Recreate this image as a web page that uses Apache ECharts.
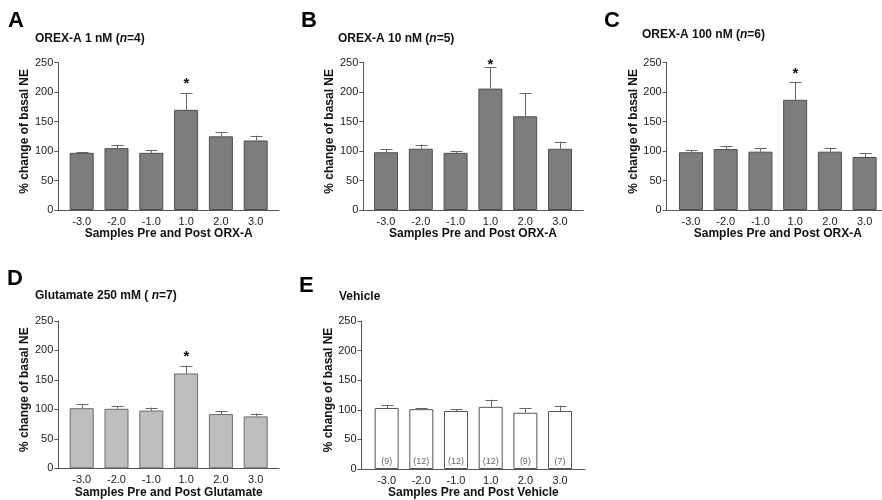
<!DOCTYPE html>
<html>
<head>
<meta charset="utf-8">
<script src="https://cdn.jsdelivr.net/npm/echarts@6/dist/echarts.min.js"></script>
<style>
html,body{margin:0;padding:0;background:#fff;}
#chart{width:882px;height:500px;}
</style>
</head>
<body>
<div id="chart"></div>
<script>
// ---- data ----
const categories = ['-3.0', '-2.0', '-1.0', '1.0', '2.0', '3.0'];
const yTicks = [0, 50, 100, 150, 200, 250];

const orexA1Mean   = [97, 105, 97, 170, 125, 118];
const orexA1Sem    = [1.5, 5, 5, 29, 7, 8];
const orexA10Mean  = [98, 104, 97, 206, 159, 104];
const orexA10Sem   = [5, 7, 3, 36, 39, 12];
const orexA100Mean = [98, 103.5, 99, 187, 99, 90];
const orexA100Sem  = [3, 4.5, 5.5, 30, 7, 6];
const glutMean     = [102, 101, 98, 161, 92, 88];
const glutSem      = [7, 4, 5, 13, 5, 5];
const vehMean      = [103, 101, 98, 105, 95, 98];
const vehSem       = [5.5, 1.5, 3, 12, 8, 9];
const vehN         = ['(9)', '(12)', '(12)', '(12)', '(9)', '(7)'];

const sigA = ['1.0'];
const sigB = ['1.0'];
const sigC = ['1.0'];
const sigD = ['1.0'];
const sigE = [];

const panelLetters = ['A', 'B', 'C', 'D', 'E'];
const panelTitles = [
  ['OREX-A 1 nM (', 'n', '=4)'],
  ['OREX-A 10 nM (', 'n', '=5)'],
  ['OREX-A 100 nM (', 'n', '=6)'],
  ['Glutamate 250 mM ( ', 'n', '=7)'],
  ['Vehicle', '', '']
];
const xNames = ['Samples Pre and Post ORX-A', 'Samples Pre and Post ORX-A', 'Samples Pre and Post ORX-A',
                'Samples Pre and Post Glutamate', 'Samples Pre and Post Vehicle'];
const yName = '% change of basal NE';

// ---- layout / style (not data) ----
const FONT = '"Liberation Sans", Arial, sans-serif';
const panels = [
  {mean: orexA1Mean,   sem: orexA1Sem,   sig: sigA, axL: 58.3,  axR: 279,   bL: 64.3,  bR: 273.1, top: 62.7, bot: 210,
   fill: '#7d7d7d', border: '#4f4f4f', letter: [8, 10], title: [35, 32.5]},
  {mean: orexA10Mean,  sem: orexA10Sem,  sig: sigB, axL: 363.3, axR: 583.3, bL: 368.6, bR: 577.4, top: 62.7, bot: 210,
   fill: '#7d7d7d', border: '#4f4f4f', letter: [301, 9.5], title: [338, 32.5]},
  {mean: orexA100Mean, sem: orexA100Sem, sig: sigC, axL: 666.7, axR: 882,   bL: 673.6, bR: 882,   top: 62.7, bot: 210,
   fill: '#7d7d7d', border: '#4f4f4f', letter: [604, 9.5], title: [642, 28.5]},
  {mean: glutMean,     sem: glutSem,     sig: sigD, axL: 58.3,  axR: 279,   bL: 64.3,  bR: 273.1, top: 321, bot: 468.3,
   fill: '#bebebe', border: '#6a6a6a', letter: [7, 268], title: [35, 290]},
  {mean: vehMean,      sem: vehSem,      sig: sigE, axL: 361.5, axR: 585,   bL: 369.3, bR: 577.4, top: 321, bot: 469,
   fill: '#ffffff', border: '#555555', letter: [299, 275], title: [339, 291], nLabels: vehN}
];

const grids = [], xAxes = [], yAxes = [], series = [], titles = [];

panels.forEach((p, i) => {
  const gAxis = grids.length;
  grids.push({left: p.axL, top: p.top, width: p.axR - p.axL, height: p.bot - p.top, outerBoundsMode: 'none', containLabel: false});
  const gData = grids.length;
  grids.push({left: p.bL, top: p.top, width: p.bR - p.bL, height: p.bot - p.top, outerBoundsMode: 'none', containLabel: false});

  // axis-line grid
  xAxes.push({gridIndex: gAxis, type: 'value', min: 0, max: 1, position: 'bottom',
    axisLine: {show: true, onZero: false, lineStyle: {color: '#555', width: 1}},
    axisTick: {show: false}, axisLabel: {show: false}, splitLine: {show: false}});
  yAxes.push({gridIndex: gAxis, type: 'value', min: yTicks[0], max: yTicks[yTicks.length - 1],
    interval: yTicks[1] - yTicks[0],
    axisLine: {show: true, lineStyle: {color: '#555', width: 1}},
    axisTick: {show: true, inside: false, length: 4, lineStyle: {color: '#555'}},
    axisLabel: {show: true, margin: 5, fontSize: 11, color: '#222', fontFamily: FONT},
    splitLine: {show: false},
    name: yName, nameLocation: 'middle', nameRotate: 90, nameGap: 27,
    nameTextStyle: {fontSize: 12, fontWeight: 'bold', color: '#111', fontFamily: FONT, padding: [0, 0, 0, 10]}});

  // data grid
  const xi = xAxes.length;
  xAxes.push({gridIndex: gData, type: 'category', data: categories, boundaryGap: true,
    axisLine: {show: false}, axisTick: {show: false},
    axisLabel: {show: true, margin: 6, fontSize: 11, color: '#222', fontFamily: FONT, interval: 0},
    splitLine: {show: false},
    name: xNames[i], nameLocation: 'middle', nameGap: 18,
    nameTextStyle: {fontSize: 12, fontWeight: 'bold', color: '#111', fontFamily: FONT}});
  const yi = yAxes.length;
  yAxes.push({gridIndex: gData, type: 'value', min: yTicks[0], max: yTicks[yTicks.length - 1], show: false});

  series.push({
    type: 'bar', xAxisIndex: xi, yAxisIndex: yi, barWidth: 24, silent: true,
    data: p.mean.map((v, k) => ({value: v,
      label: p.nLabels ? {show: true, formatter: p.nLabels[k]} : {show: false}})),
    itemStyle: {color: p.fill, borderColor: p.border, borderWidth: 1},
    label: {position: 'insideBottom', distance: 3, fontSize: 9, color: '#666', fontFamily: FONT},
    animation: false
  });

  const topPx = p.top;
  series.push({
    type: 'custom', xAxisIndex: xi, yAxisIndex: yi, silent: true, animation: false, z: 5,
    data: p.mean.map((v, k) => [k, v, p.sem[k], p.sig.indexOf(categories[k]) >= 0 ? 1 : 0]),
    renderItem: function (params, api) {
      const k = api.value(0), v = api.value(1), e = api.value(2), s = api.value(3);
      const base = api.coord([k, v]);
      const cap = api.coord([k, v + e]);
      const x = Math.round(base[0]) + 0.5;
      const children = [
        {type: 'line', shape: {x1: x, y1: base[1], x2: x, y2: cap[1]}, style: {stroke: '#666', lineWidth: 1}},
        {type: 'line', shape: {x1: x - 6, y1: Math.round(cap[1]) + 0.5, x2: x + 6, y2: Math.round(cap[1]) + 0.5},
          style: {stroke: '#666', lineWidth: 1}}
      ];
      if (s) {
        const ty = Math.max(cap[1] - 12, topPx - 1);
        children.push({type: 'text', x: x, y: ty + 3.5,
          style: {text: '*', fontSize: 15, fontWeight: 'bold', fill: '#111', fontFamily: FONT,
                  align: 'center', verticalAlign: 'middle'}});
      }
      return {type: 'group', children: children};
    }
  });

  titles.push({text: panelLetters[i], left: p.letter[0], top: p.letter[1], padding: 0,
    textStyle: {fontSize: 22, fontWeight: 'bold', color: '#000', fontFamily: FONT}});
  const t = panelTitles[i];
  const txt = t[1] ? '{b|' + t[0] + '}{i|' + t[1] + '}{b|' + t[2] + '}' : '{b|' + t[0] + '}';
  titles.push({text: txt, left: p.title[0], top: p.title[1], padding: 0,
    textStyle: {fontSize: 12, fontWeight: 'bold', color: '#111', fontFamily: FONT,
      rich: {b: {fontSize: 12, fontWeight: 'bold', color: '#111', fontFamily: FONT},
             i: {fontSize: 12, fontWeight: 'bold', fontStyle: 'italic', color: '#111', fontFamily: FONT}}}});
});

const chart = echarts.init(document.getElementById('chart'), null, {renderer: 'canvas'});
chart.setOption({
  backgroundColor: '#fff',
  animation: false,
  title: titles,
  grid: grids,
  xAxis: xAxes,
  yAxis: yAxes,
  series: series,
  tooltip: {show: false}
});
</script>
</body>
</html>
